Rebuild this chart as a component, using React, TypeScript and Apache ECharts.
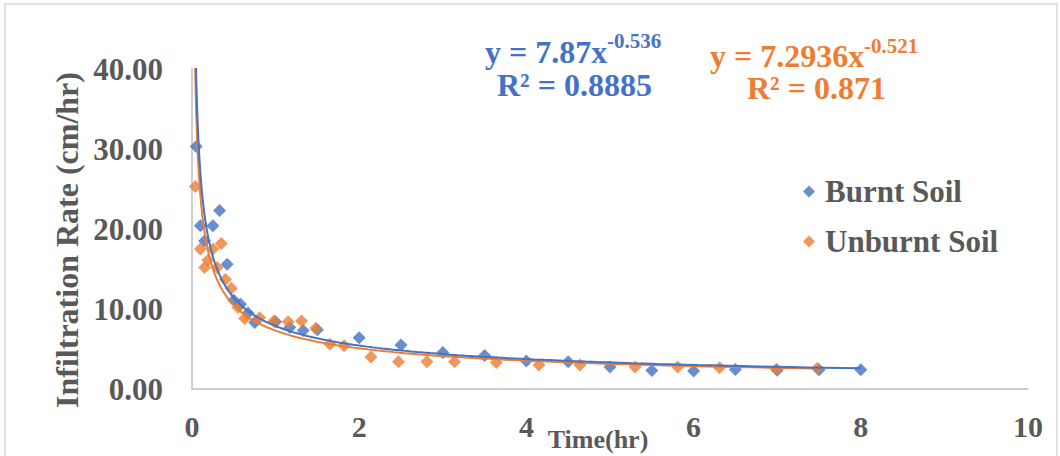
import React, { useEffect, useRef } from 'react';
import * as echarts from 'echarts';

// Burnt soil: [time (hr), infiltration rate (cm/hr)]
const burntSoil: [number, number][] = [
  [0.05, 30.3], [0.1, 20.4], [0.15, 18.5], [0.25, 20.4], [0.33, 22.3],
  [0.42, 15.6], [0.5, 11.1], [0.58, 10.6], [0.67, 9.5], [0.75, 8.3],
  [1.0, 8.4], [1.17, 7.7], [1.33, 7.3], [1.5, 7.4], [2.0, 6.4],
  [2.5, 5.5], [3.0, 4.55], [3.5, 4.2], [4.0, 3.5], [4.5, 3.4],
  [5.0, 2.75], [5.5, 2.3], [6.0, 2.25], [6.5, 2.45], [7.0, 2.35],
  [7.5, 2.4], [8.0, 2.4],
];

// Unburnt soil: [time (hr), infiltration rate (cm/hr)]
const unburntSoil: [number, number][] = [
  [0.04, 25.3], [0.1, 17.5], [0.15, 15.2], [0.19, 16.1], [0.25, 17.5],
  [0.3, 15.2], [0.35, 18.2], [0.4, 13.7], [0.47, 12.6], [0.55, 10.2],
  [0.63, 8.8], [0.81, 8.9], [0.98, 8.5], [1.15, 8.4], [1.31, 8.5],
  [1.48, 7.6], [1.65, 5.6], [1.82, 5.4], [2.14, 4.0], [2.47, 3.4],
  [2.81, 3.4], [3.14, 3.4], [3.64, 3.3], [4.15, 3.0], [4.64, 3.0],
  [5.3, 2.75], [5.81, 2.75], [6.31, 2.67], [6.99, 2.46], [7.48, 2.58],
];

// power trendlines as printed on the chart: y = a * x^b
const burntFit = { a: 7.87, b: -0.536, r2: '0.8885', end: 8 };
const unburntFit = { a: 7.2936, b: -0.521, r2: '0.871', end: 7.48 };

const xTicks = [0, 2, 4, 6, 8, 10];
const yTicks = [0, 10, 20, 30, 40];

const BLUE = '#4472C4';
const ORANGE = '#ED7D31';
const TEXT = '#595959';
const FONT = '"Liberation Serif", "Times New Roman", serif';

// sample the trend curve, denser near zero where it bends hard
const trend = (fit: { a: number; b: number; end: number }) => {
  const pts: [number, number][] = [];
  const start = 0.03;
  const n = 200;
  for (let i = 0; i <= n; i++) {
    const x = start * Math.pow(fit.end / start, i / n);
    pts.push([x, fit.a * Math.pow(x, fit.b)]);
  }
  return pts;
};

const txt = (
  x: number,
  y: number,
  text: string,
  size: number,
  fill: string,
  align = 'left',
  rotation = 0
) => ({
  type: 'text',
  x,
  y,
  rotation,
  style: {
    text,
    fill,
    fontSize: size,
    fontWeight: 'bold',
    fontFamily: FONT,
    align,
    verticalAlign: 'middle',
  },
});

const App: React.FC = () => {
  const chartRef = useRef<HTMLDivElement>(null);

  useEffect(() => {
    if (!chartRef.current) return;
    const chart = echarts.init(chartRef.current, undefined, { renderer: 'svg' });

    const option = {
      animation: false,
      backgroundColor: '#ffffff',
      grid: { left: 192, right: 32, top: 69, bottom: 67 },
      legend: {
        data: ['Burnt Soil', 'Unburnt Soil'],
        orient: 'vertical',
        left: 798,
        top: 171,
        icon: 'diamond',
        itemWidth: 12,
        itemHeight: 12,
        itemGap: 19,
        textStyle: {
          fontSize: 31,
          fontWeight: 'bold',
          color: TEXT,
          fontFamily: FONT,
          padding: [0, 0, 0, 5],
        },
      },
      xAxis: {
        type: 'value',
        min: xTicks[0],
        max: xTicks[xTicks.length - 1],
        interval: 2,
        splitLine: { show: false },
        axisTick: { show: false },
        axisLine: { lineStyle: { color: '#bfbfbf', width: 1.5 } },
        axisLabel: {
          fontSize: 30,
          fontWeight: 'bold',
          color: TEXT,
          fontFamily: FONT,
          margin: 22,
        },
      },
      yAxis: {
        type: 'value',
        min: yTicks[0],
        max: yTicks[yTicks.length - 1],
        interval: 10,
        splitLine: { show: false },
        axisTick: { show: false },
        axisLine: { show: true, lineStyle: { color: '#bfbfbf', width: 1.5 } },
        axisLabel: {
          fontSize: 31,
          fontWeight: 'bold',
          color: TEXT,
          fontFamily: FONT,
          margin: 29,
          formatter: (v: number) => v.toFixed(2),
        },
      },
      series: [
        {
          name: 'Burnt Soil',
          type: 'scatter',
          symbol: 'diamond',
          symbolSize: 13,
          itemStyle: { color: BLUE },
          data: burntSoil,
          z: 2,
        },
        {
          name: 'Unburnt Soil',
          type: 'scatter',
          symbol: 'diamond',
          symbolSize: 13,
          itemStyle: { color: ORANGE },
          data: unburntSoil,
          z: 2,
        },
        {
          name: 'Unburnt trend',
          type: 'line',
          showSymbol: false,
          clip: true,
          lineStyle: { color: ORANGE, width: 2 },
          data: trend(unburntFit),
          z: 3,
        },
        {
          name: 'Burnt trend',
          type: 'line',
          showSymbol: false,
          clip: true,
          lineStyle: { color: BLUE, width: 2 },
          data: trend(burntFit),
          z: 4,
        },
      ],
      graphic: [
        {
          type: 'rect',
          shape: { x: 5, y: 4, width: 1052, height: 460 },
          style: { fill: 'none', stroke: '#d9d9d9', lineWidth: 1.5 },
          silent: true,
        },
        txt(485, 52, `y = ${burntFit.a}x`, 32, BLUE),
        txt(607, 41, `${burntFit.b}`, 21, BLUE),
        txt(497, 85, `R² = ${burntFit.r2}`, 32, BLUE),
        txt(710, 56, `y = ${unburntFit.a}x`, 32, ORANGE),
        txt(864, 46, `${unburntFit.b}`, 21, ORANGE),
        txt(747, 88, `R² = ${unburntFit.r2}`, 32, ORANGE),
        txt(67, 240, 'Infiltration Rate (cm/hr)', 32, TEXT, 'center', Math.PI / 2),
        txt(598, 439, 'Time(hr)', 26, TEXT, 'center'),
      ],
    };

    chart.setOption(option);

    return () => {
      chart.dispose();
    };
  }, []);

  return (
    <div
      ref={chartRef}
      style={{ position: 'absolute', left: 0, top: 0, width: '1060px', height: '456px' }}
    />
  );
};

export default App;
